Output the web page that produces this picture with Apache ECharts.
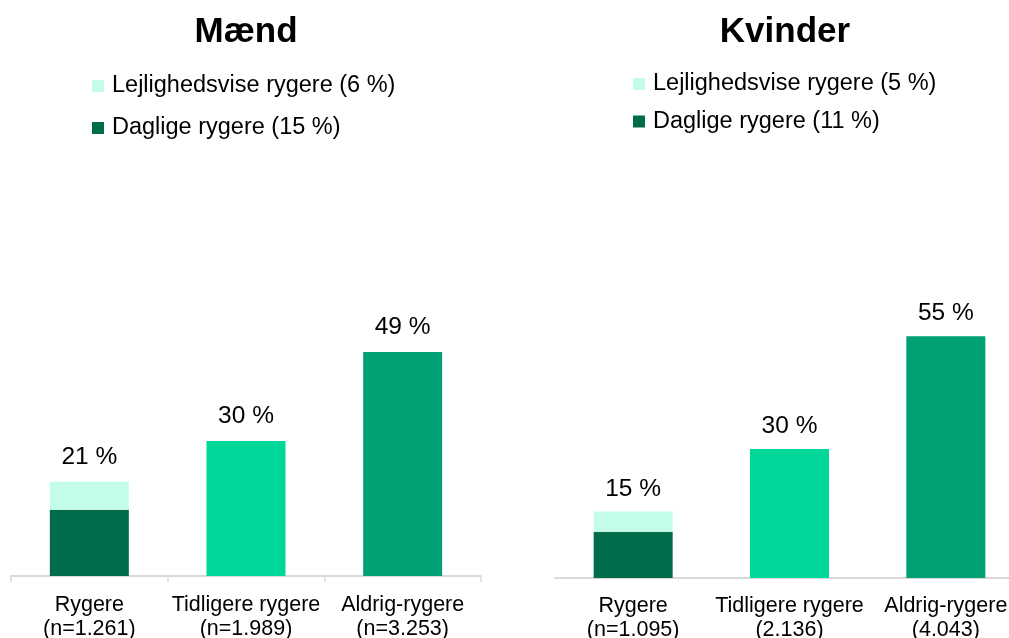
<!DOCTYPE html>
<html>
<head>
<meta charset="utf-8">
<script src="https://cdn.jsdelivr.net/npm/echarts@6/dist/echarts.min.js"></script>
<style>
  html, body { margin: 0; padding: 0; background: #fff; }
  #chart { width: 1009px; height: 638px; }
</style>
</head>
<body>
<div id="chart"></div>
<script>
const FONT = 'Arial, "Liberation Sans", sans-serif';

// categories
const menCategories = ['Rygere\n(n=1.261)', 'Tidligere rygere\n(n=1.989)', 'Aldrig-rygere\n(n=3.253)'];
const womenCategories = ['Rygere\n(n=1.095)', 'Tidligere rygere\n(2.136)', 'Aldrig-rygere\n(4.043)'];

// legend names
const menLegend = ['Lejlighedsvise rygere (6 %)', 'Daglige rygere (15 %)'];
const womenLegend = ['Lejlighedsvise rygere (5 %)', 'Daglige rygere (11 %)'];

// values (%)
const menDaily = [14.6, '-', '-'];
const menOccasional = [6.2, '-', '-'];
const menFormer = ['-', 29.8, '-'];
const menNever = ['-', '-', 49.4];

const womenDaily = [10.6, '-', '-'];
const womenOccasional = [4.6, '-', '-'];
const womenFormer = ['-', 29.5, '-'];
const womenNever = ['-', '-', 55.3];

const colors = {
  daily: '#006C4C',
  occasional: '#C4FCEA',
  former: '#00D89B',
  never: '#00A275'
};

const pct = (v) => Math.round(v) + ' %';

function barLabel(distance) {
  return {
    show: true,
    position: 'top',
    distance: distance,
    color: '#000',
    fontSize: 24.5,
    fontFamily: FONT
  };
}

function makeSeries(idx, names, daily, occasional, former, never, dist) {
  const stack = 'g' + idx;
  return [
    {
      name: names[1], type: 'bar', stack: stack, xAxisIndex: idx, yAxisIndex: idx,
      data: daily, barWidth: 79, itemStyle: { color: colors.daily }
    },
    {
      name: names[0], type: 'bar', stack: stack, xAxisIndex: idx, yAxisIndex: idx,
      data: occasional, barWidth: 79, itemStyle: { color: colors.occasional },
      label: Object.assign(barLabel(dist), {
        formatter: (p) => pct(daily[p.dataIndex] + occasional[p.dataIndex])
      })
    },
    {
      name: 'former' + idx, type: 'bar', stack: stack, xAxisIndex: idx, yAxisIndex: idx,
      data: former, barWidth: 79, itemStyle: { color: colors.former },
      label: Object.assign(barLabel(dist), { formatter: (p) => pct(p.value) })
    },
    {
      name: 'never' + idx, type: 'bar', stack: stack, xAxisIndex: idx, yAxisIndex: idx,
      data: never, barWidth: 79, itemStyle: { color: colors.never },
      label: Object.assign(barLabel(dist), { formatter: (p) => pct(p.value) })
    }
  ];
}

function xAxis(idx, cats, ticks, margin) {
  return {
    type: 'category',
    gridIndex: idx,
    data: cats,
    axisLine: { show: true, lineStyle: { color: '#D9D9D9', width: 2 } },
    axisTick: { show: ticks, length: 6, lineStyle: { color: '#D9D9D9', width: 1.5 } },
    axisLabel: {
      color: '#000', fontSize: 21.5, fontFamily: FONT,
      lineHeight: 24, margin: margin, interval: 0
    }
  };
}

function yAxis(idx) {
  return { type: 'value', gridIndex: idx, min: 0, max: 60, show: false };
}

function legend(names, left, top, gap) {
  return {
    orient: 'vertical',
    left: left, top: top,
    padding: 0,
    itemGap: gap,
    itemWidth: 12, itemHeight: 12,
    icon: 'rect',
    data: names,
    selectedMode: false,
    textStyle: { color: '#000', fontSize: 23.5, fontFamily: FONT, lineHeight: 24, padding: [0, 0, 0, 3] }
  };
}

const chart = echarts.init(document.getElementById('chart'));
chart.setOption({
  backgroundColor: '#fff',
  animation: false,
  title: [
    { text: 'Mænd', left: 246, top: 15, textAlign: 'center', padding: 0,
      textStyle: { fontSize: 35, fontWeight: 'bold', color: '#000', fontFamily: FONT } },
    { text: 'Kvinder', left: 785, top: 15, textAlign: 'center', padding: 0,
      textStyle: { fontSize: 35, fontWeight: 'bold', color: '#000', fontFamily: FONT } }
  ],
  legend: [
    legend(menLegend, 92, 74, 18),
    legend(womenLegend, 633, 72, 13.5)
  ],
  grid: [
    { left: 11, width: 470, top: 304, height: 272, outerBoundsMode: 'none', containLabel: false },
    { left: 555, width: 469, top: 315.6, height: 262.4, outerBoundsMode: 'none', containLabel: false }
  ],
  xAxis: [
    xAxis(0, menCategories, true, 17),
    xAxis(1, womenCategories, false, 16)
  ],
  yAxis: [yAxis(0), yAxis(1)],
  series: [].concat(
    makeSeries(0, menLegend, menDaily, menOccasional, menFormer, menNever, 12),
    makeSeries(1, womenLegend, womenDaily, womenOccasional, womenFormer, womenNever, 10)
  )
});
</script>
</body>
</html>
